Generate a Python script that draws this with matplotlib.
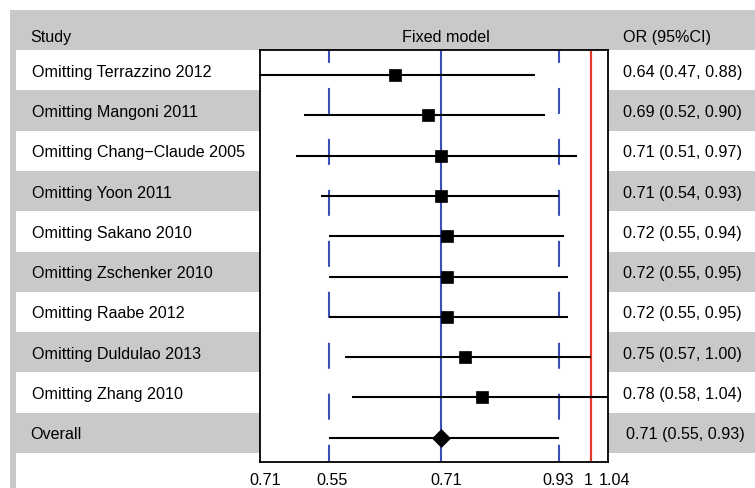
import matplotlib
matplotlib.use("Agg")
import matplotlib.pyplot as plt
import matplotlib.transforms as mtransforms
from matplotlib.patches import Rectangle
from matplotlib.ticker import NullLocator

plt.rcParams['font.family'] = ['Liberation Sans', 'DejaVu Sans']
plt.rcParams['lines.scale_dashes'] = False

# Sensitivity analysis (one study omitted at a time)
studies = [
    "Omitting Terrazzino 2012",
    "Omitting Mangoni 2011",
    "Omitting Chang\u2212Claude 2005",
    "Omitting Yoon 2011",
    "Omitting Sakano 2010",
    "Omitting Zschenker 2010",
    "Omitting Raabe 2012",
    "Omitting Duldulao 2013",
    "Omitting Zhang 2010",
]
or_vals = [0.64, 0.69, 0.71, 0.71, 0.72, 0.72, 0.72, 0.75, 0.78]
ci_low = [0.47, 0.52, 0.51, 0.54, 0.55, 0.55, 0.55, 0.57, 0.58]
ci_high = [0.88, 0.90, 0.97, 0.93, 0.94, 0.95, 0.95, 1.00, 1.04]

overall_label = "Overall"
overall_or = 0.71
overall_low = 0.55
overall_high = 0.93

x_limits = (0.47, 1.04)
tick_vals = [0.47, 0.55, 0.71, 0.93, 1.0, 1.04]
tick_labels = ["0.71", "0.55", "0.71", "0.93", "1", "1.04"]

W, H = 755, 488
GREY = "#c9c9cb"
BLUE = "#3b50b4"
RED = "#e5392b"
FS = 11.6

fig = plt.figure(figsize=(W / 100, H / 100), dpi=100)
# plot box: x 260..608 px, y 50..462 px
ax = fig.add_axes([260 / W, (H - 462) / H, 348 / W, 412 / H])
ax.set_facecolor("white")

n = len(studies)
row_h = 40.3
y_top = -(75 - 50) / row_h
y_bot = (462 - 75) / row_h
ax.set_xscale("log")
ax.set_xlim(*x_limits)
ax.set_ylim(y_bot, y_top)

# blended: x in figure fraction, y in row units
tr = mtransforms.blended_transform_factory(fig.transFigure, ax.transData)
px = lambda v: v / W

# header band and left strip
fig.add_artist(Rectangle((px(10), y_top - 1.0), px(745), 1.0, transform=tr,
                         facecolor=GREY, edgecolor="none", zorder=-1))
fig.add_artist(Rectangle((px(10), y_top), px(6), 12, transform=tr,
                         facecolor=GREY, edgecolor="none", zorder=-1))
# alternating row bands (axes background covers the middle)
for i in range(n + 1):
    if i % 2 == 1:
        fig.add_artist(Rectangle((px(16), i + y_top), px(739), 1.0, transform=tr,
                                 facecolor=GREY, edgecolor="none", zorder=-1))

# reference lines
ax.axvline(overall_or, color=BLUE, lw=1.5, zorder=1)
for v in (overall_low, overall_high):
    ax.plot([v, v], [y_top, y_bot], color=BLUE, lw=1.5,
            linestyle=(9.4, (18.7, 18.0)), zorder=1)
ax.axvline(1.0, color=RED, lw=1.6, zorder=1)

# study estimates
for i in range(n):
    ax.plot([ci_low[i], ci_high[i]], [i, i], color="black", lw=1.5, zorder=2,
            solid_capstyle="butt")
    ax.plot(or_vals[i], i, marker="s", ms=8.2, color="black", mew=0.5, zorder=3)

ax.plot([overall_low, overall_high], [n, n], color="black", lw=1.5, zorder=2,
        solid_capstyle="butt")
ax.plot(overall_or, n, marker="D", ms=8.8, color="black", mew=0.5, zorder=3)

# axis styling
for s in ax.spines.values():
    s.set_linewidth(1.3)
    s.set_color("black")
ax.set_yticks([])
ax.set_xticks(tick_vals)
ax.set_xticklabels(tick_labels, fontsize=FS)
ax.xaxis.set_minor_locator(NullLocator())
ax.tick_params(axis="x", length=0, pad=8)
# small horizontal nudges (px) so labels sit where the original prints them
label_nudge = [5, 3, 5, -1, -3, 6]
for lbl, dx in zip(ax.get_xticklabels(), label_nudge):
    shift = mtransforms.ScaledTranslation(dx / 100, 0, fig.dpi_scale_trans)
    lbl.set_transform(lbl.get_transform() + shift)

# header texts
hy = y_top - 0.32
fig.text(px(30), hy, "Study", transform=tr, fontsize=FS, va="center", ha="left")
fig.text(px(446), hy, "Fixed model", transform=tr, fontsize=FS, va="center", ha="center")
fig.text(px(623), hy, "OR (95%CI)", transform=tr, fontsize=FS, va="center", ha="left")

# row texts
for i, name in enumerate(studies):
    fig.text(px(32), i - 0.07, name, transform=tr, fontsize=FS, va="center", ha="left")
    fig.text(px(623), i - 0.07, f"{or_vals[i]:.2f} ({ci_low[i]:.2f}, {ci_high[i]:.2f})",
             transform=tr, fontsize=FS, va="center", ha="left")
fig.text(px(30), n - 0.07, overall_label, transform=tr, fontsize=FS, va="center", ha="left")
fig.text(px(626), n - 0.07, f"{overall_or:.2f} ({overall_low:.2f}, {overall_high:.2f})",
         transform=tr, fontsize=FS, va="center", ha="left")

fig.savefig("out.png", dpi=100)
